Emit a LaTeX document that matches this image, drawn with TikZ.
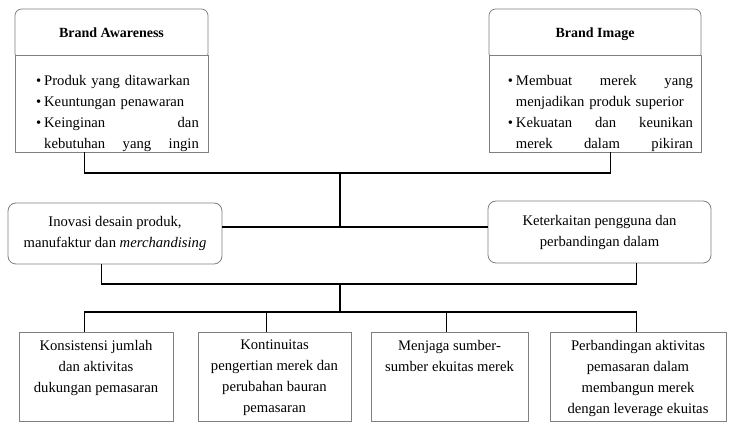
\documentclass[tikz,border=0pt]{standalone}
\usepackage{fontspec}
\setmainfont{Liberation Serif}
\usetikzlibrary{calc}
\definecolor{boxgray}{gray}{0.5}
\newcommand{\bline}{\par\noindent\makebox[6pt][l]{\textbullet}}
\newcommand{\contline}{\par\noindent\hspace*{6pt}}
\begin{document}
\begin{tikzpicture}[x=0.75pt,y=-0.75pt,font=\fontsize{11}{15.75}\selectfont,
   box/.style={draw=boxgray,line width=0.6pt,inner sep=0pt,fill=white},
   head/.style={box,rounded corners=5pt,minimum height=38.25pt,text depth=3.5pt,
     font=\fontsize{10.5}{15.75}\selectfont\bfseries},
   body/.style={box,minimum height=72.75pt},
   mid/.style={box,rounded corners=6pt,align=center},
   foot/.style={box,minimum height=66.75pt},
   inside/.style={anchor=north,inner sep=0pt,align=center},
   link/.style={line width=0.9pt}]
  \useasboundingbox (0,0) rectangle (732,423);
  % top boxes
  \node[head,minimum width=144.75pt] (aware) at (111.5,34.5) {Brand Awareness};
  \node[body,minimum width=144.75pt] (awareBody) at (111.5,103.5) {};
  \node[inside,align=left,text width=122pt,xshift=4.5pt,yshift=-7.5pt]
     (awareList) at (awareBody.north) {%
     \bline Produk yang ditawarkan
     \bline Keuntungan penawaran
     \bline Keinginan\hfill dan
     \contline kebutuhan\hfill yang\hfill ingin};
  \node[head,minimum width=159pt] (image) at (595,34.5) {Brand Image};
  \node[body,minimum width=159pt] (imageBody) at (595,103.5) {};
  \node[inside,align=left,text width=138.75pt,xshift=4.1pt,yshift=-7.5pt]
     (imageList) at (imageBody.north) {%
     \bline Membuat\hfill merek\hfill yang
     \contline menjadikan produk superior
     \bline Kekuatan\hfill dan\hfill keunikan
     \contline merek\hfill dalam\hfill pikiran};
  % middle boxes
  \node[mid,minimum width=160.5pt,minimum height=45.75pt] (inovasi) at (115,233.5)
     {Inovasi desain produk,\\manufaktur dan \textit{merchandising}};
  \node[mid,minimum width=167.25pt,minimum height=46.5pt] (keterkaitan) at (599.5,232)
     {Keterkaitan pengguna dan\\perbandingan dalam};
  % bottom boxes
  \node[foot,minimum width=115.5pt] (konsistensi) at (96,376.5) {};
  \node[inside,yshift=-6pt] (konsistensiText) at (konsistensi.north)
     {Konsistensi jumlah\\dan aktivitas\\dukungan pemasaran};
  \node[foot,minimum width=114.75pt] (kontinuitas) at (274.5,376.5) {};
  \node[inside,yshift=-6pt] (kontinuitasText) at (kontinuitas.north)
     {Kontinuitas\\pengertian merek dan\\perubahan bauran\\pemasaran};
  \node[foot,minimum width=117.75pt] (sumber) at (449.5,376.5) {};
  \node[inside,yshift=-6pt] (sumberText) at (sumber.north)
     {Menjaga sumber-\\sumber ekuitas merek};
  \node[foot,minimum width=132pt] (leverage) at (638,376.5) {};
  \node[inside,yshift=-6pt] (leverageText) at (leverage.north)
     {Perbandingan aktivitas\\pemasaran dalam\\membangun merek\\dengan leverage ekuitas};
  % junctions
  \coordinate (topJoin) at (340,173);
  \coordinate (midJoin) at (340,227);
  \coordinate (lowJoin) at (340,284);
  \coordinate (botJoin) at (340,312);
  % connectors
  \draw[link] ($(awareBody.south west)+(70,0)$) |- (topJoin)
     -| ($(imageBody.south west)+(122,0)$);
  \draw[link] (topJoin) -- (midJoin);
  \draw[link] (inovasi.east |- midJoin) -- (keterkaitan.west |- midJoin);
  \draw[link] ($(inovasi.south west)+(94,0)$) |- (lowJoin)
     -| ($(keterkaitan.south west)+(149,0)$);
  \draw[link] (lowJoin) -- (botJoin);
  \draw[link] ($(konsistensi.north west)+(66,0)$) |- (botJoin)
     -| ($(leverage.north west)+(87,0)$);
  \draw[link] ($(kontinuitas.north west)+(69,0)$) |- (botJoin);
  \draw[link] ($(sumber.north west)+(76,0)$) |- (botJoin);
\end{tikzpicture}
\end{document}
